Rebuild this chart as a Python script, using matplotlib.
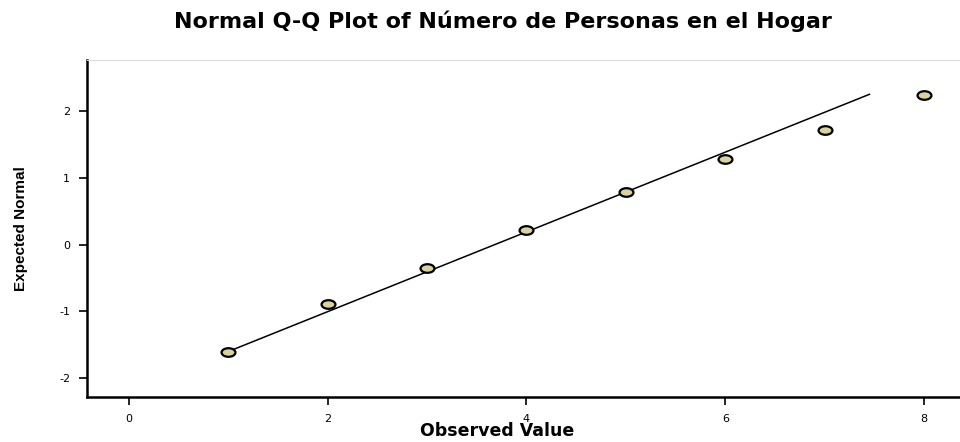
import matplotlib
matplotlib.use("Agg")
import matplotlib.pyplot as plt
from matplotlib.path import Path
from matplotlib.transforms import Affine2D

# Observed values and their expected normal quantiles
observed = [1, 2, 3, 4, 5, 6, 7, 8]
expected = [-1.60, -0.89, -0.35, 0.22, 0.79, 1.28, 1.71, 2.24]

# Reference line end points
line_x = [1.0, 7.45]
line_y = [-1.60, 2.25]

xticks = [0, 2, 4, 6, 8]
yticks = [-2, -1, 0, 1, 2]

plt.rcParams['font.family'] = ['DejaVu Sans']

fig = plt.figure(figsize=(9.6, 4.42), dpi=100)
ax = fig.add_axes([0.0906, 0.1018, 0.9094, 0.762])

# flat ellipse marker like the SPSS one
ellipse = Path.unit_circle().transformed(Affine2D().scale(1.0, 0.62))

ax.plot(line_x, line_y, color='black', lw=1.1, zorder=2)
ax.scatter(observed, expected, marker=ellipse, s=100, facecolor='#d9d1a0',
           edgecolor='black', linewidths=1.6, zorder=3)

ax.set_xlim(-0.42, 8.36)
ax.set_ylim(-2.28, 2.76)
ax.set_xticks(xticks)
ax.set_yticks(yticks)
ax.set_xticklabels([str(t) for t in xticks])
ax.set_yticklabels([str(t) for t in yticks])
ax.tick_params(direction='out', length=6, width=1.2, labelsize=8, pad=6)

ax.spines['left'].set_linewidth(1.8)
ax.spines['bottom'].set_linewidth(1.8)
ax.spines['top'].set_color('#dddddd')
ax.spines['right'].set_visible(False)

ax.set_xlabel('Observed Value', fontsize=12.5, fontweight='bold')
ax.xaxis.set_label_coords(0.47, -0.074)
ax.set_ylabel('Expected Normal', fontsize=11, fontweight='bold',
              family=['Liberation Sans Narrow', 'Liberation Sans', 'DejaVu Sans'])
ax.yaxis.set_label_coords(-0.068, 0.5)
fig.text(0.524, 0.952, 'Normal Q-Q Plot of Número de Personas en el Hogar',
         ha='center', va='center', fontsize=16, fontweight='bold')

fig.savefig('out.png', dpi=100)
